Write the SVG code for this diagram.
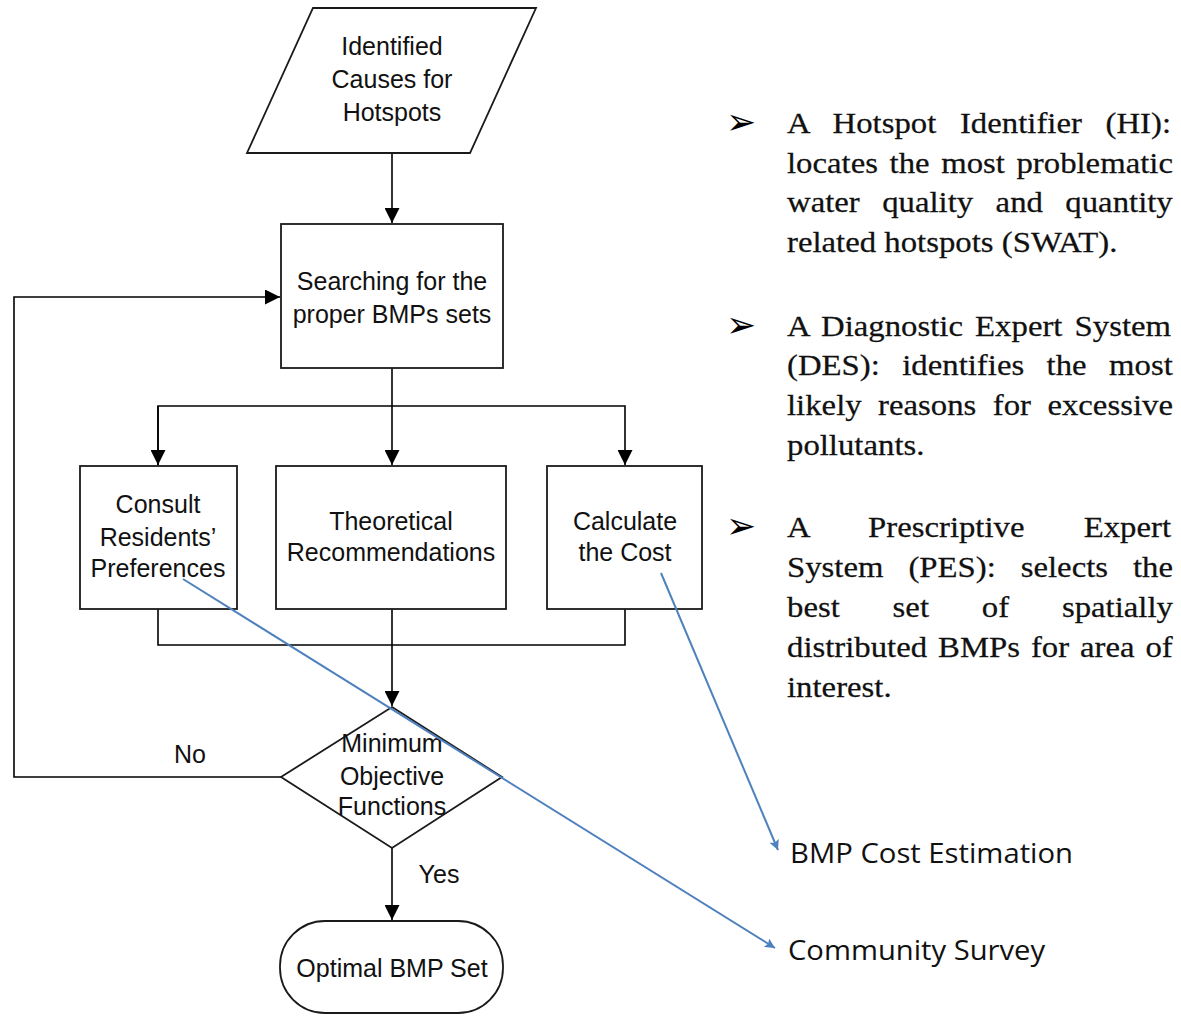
<svg xmlns="http://www.w3.org/2000/svg" width="1181" height="1016" viewBox="0 0 1181 1016">
<style>
.shape{fill:#fff;stroke:#1a1a1a;stroke-width:1.8}
.conn{fill:none;stroke:#000;stroke-width:1.6}
.blue{fill:none;stroke:#4f81bd;stroke-width:2}
.fc{font-family:"Liberation Sans",Arial,sans-serif;font-size:25px;fill:#111;text-anchor:middle}
.rt{font-family:"Liberation Serif","Times New Roman",serif;font-size:29px;fill:#111;stroke:#111;stroke-width:0.25}
.bul{font-family:"DejaVu Sans",sans-serif;font-size:36px;fill:#000}
.lbl{font-family:"Open Sans","Noto Sans",sans-serif;font-size:27px;fill:#111}
</style>
<defs>
<marker id="ah" markerWidth="17" markerHeight="15" refX="15" refY="7.5" orient="auto" markerUnits="userSpaceOnUse">
<path d="M0,0 L15,7.5 L0,15 Z" fill="#000"/>
</marker>
<marker id="bh" markerWidth="12" markerHeight="10" refX="10" refY="5" orient="auto" markerUnits="userSpaceOnUse">
<path d="M0,0 L10,5 L0,10 L2,5 Z" fill="#4f81bd"/>
</marker>
</defs>

<g id="connectors">
<line class="conn" x1="392" y1="153" x2="392" y2="223" marker-end="url(#ah)"/>
<polyline class="conn" points="281,777 14,777 14,297 280,297" marker-end="url(#ah)"/>
<line class="conn" x1="392" y1="368" x2="392" y2="465" marker-end="url(#ah)"/>
<polyline class="conn" points="158,465 158,406 625,406 625,465" marker-end="url(#ah)"/>
<path class="conn" d="M158,406 L158,465" marker-end="url(#ah)"/>
<polyline class="conn" points="158,609 158,645 625,645 625,609"/>
<line class="conn" x1="392" y1="609" x2="392" y2="706" marker-end="url(#ah)"/>
<line class="conn" x1="392" y1="848" x2="392" y2="920" marker-end="url(#ah)"/>
</g>

<g id="n-causes">
<polygon class="shape" points="313,8 536,8 470,153 247,153"/>
<text class="fc" x="392" y="55">Identified</text>
<text class="fc" x="392" y="88">Causes for</text>
<text class="fc" x="392" y="121">Hotspots</text>
</g>

<g id="n-search">
<rect class="shape" x="281" y="224" width="222" height="144"/>
<text class="fc" x="392" y="290">Searching for the</text>
<text class="fc" x="392" y="323">proper BMPs sets</text>
</g>

<g id="n-consult">
<rect class="shape" x="80" y="466" width="157" height="143"/>
<text class="fc" x="158" y="513">Consult</text>
<text class="fc" x="158" y="546">Residents’</text>
<text class="fc" x="158" y="577">Preferences</text>
</g>

<g id="n-theory">
<rect class="shape" x="276" y="466" width="230" height="143"/>
<text class="fc" x="391" y="530">Theoretical</text>
<text class="fc" x="391" y="561">Recommendations</text>
</g>

<g id="n-cost">
<rect class="shape" x="547" y="466" width="155" height="143"/>
<text class="fc" x="625" y="530">Calculate</text>
<text class="fc" x="625" y="561">the Cost</text>
</g>

<g id="n-decision">
<polygon class="shape" points="392,707 502,777 392,848 281,777"/>
<text class="fc" x="392" y="752">Minimum</text>
<text class="fc" x="392" y="785">Objective</text>
<text class="fc" x="392" y="815">Functions</text>
</g>

<g id="edge-labels">
<text class="fc" x="190" y="763">No</text>
<text class="fc" x="439" y="883">Yes</text>
</g>

<g id="n-optimal">
<rect class="shape" x="280" y="921" width="223" height="92" rx="45" ry="45"/>
<text class="fc" x="392" y="977">Optimal BMP Set</text>
</g>

<g id="annotations">
<line class="blue" x1="183" y1="579" x2="775" y2="948" marker-end="url(#bh)"/>
<line class="blue" x1="661" y1="573" x2="778" y2="850" marker-end="url(#bh)"/>
<text class="lbl" x="790" y="863" textLength="283" lengthAdjust="spacingAndGlyphs">BMP Cost Estimation</text>
<text class="lbl" x="788" y="960" textLength="257" lengthAdjust="spacingAndGlyphs">Community Survey</text>
</g>

<g id="notes">
<text class="bul" x="726" y="134">➢</text>
<text class="bul" x="726" y="337">➢</text>
<text class="bul" x="726" y="538">➢</text>
<g transform="translate(787,0) scale(1.13,1)">
<text class="rt" x="0" y="133" word-spacing="13.7">A Hotspot Identifier (HI):</text>
<text class="rt" x="0" y="173" word-spacing="3">locates the most problematic</text>
<text class="rt" x="0" y="212" word-spacing="12.6">water quality and quantity</text>
<text class="rt" x="0" y="252">related hotspots (SWAT).</text>

<text class="rt" x="0" y="336" word-spacing="3.5">A Diagnostic Expert System</text>
<text class="rt" x="0" y="375" word-spacing="12.6">(DES): identifies the most</text>
<text class="rt" x="0" y="415" word-spacing="7.3">likely reasons for excessive</text>
<text class="rt" x="0" y="455">pollutants.</text>

<text class="rt" x="0" y="537" word-spacing="45.1">A Prescriptive Expert</text>
<text class="rt" x="0" y="577" word-spacing="14.8">System (PES): selects the</text>
<text class="rt" x="0" y="617" word-spacing="39.5">best set of spatially</text>
<text class="rt" x="0" y="657" word-spacing="2.4">distributed BMPs for area of</text>
<text class="rt" x="0" y="697">interest.</text>
</g>
</g>
</svg>
